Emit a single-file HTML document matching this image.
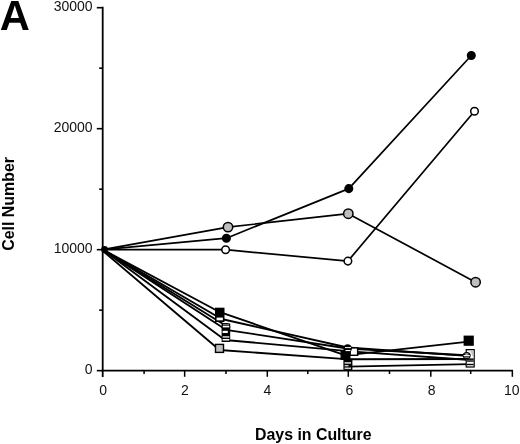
<!DOCTYPE html>
<html><head><meta charset="utf-8"><style>
html,body{margin:0;padding:0;background:#fff;}
svg{display:block;filter:grayscale(1);}
.t{font-family:"Liberation Sans",sans-serif;font-size:14px;fill:#111;}
.b{font-family:"Liberation Sans",sans-serif;font-size:15.9px;font-weight:bold;fill:#000;}
.A{font-family:"Liberation Sans",sans-serif;font-size:43.2px;font-weight:bold;fill:#000;}
</style></head><body>
<svg width="520" height="444" viewBox="0 0 520 444">
<rect width="520" height="444" fill="#fff"/>
<line x1="102.7" y1="6.8" x2="102.7" y2="377" stroke="#000" stroke-width="1.8"/>
<line x1="101.7" y1="370.65" x2="513.0" y2="370.65" stroke="#000" stroke-width="1.6"/>
<line x1="96.8" y1="370.65" x2="102.7" y2="370.65" stroke="#000" stroke-width="1.6"/>
<line x1="96.8" y1="249.67" x2="102.7" y2="249.67" stroke="#000" stroke-width="1.6"/>
<line x1="96.8" y1="128.68" x2="102.7" y2="128.68" stroke="#000" stroke-width="1.6"/>
<line x1="96.8" y1="7.70" x2="102.7" y2="7.70" stroke="#000" stroke-width="1.6"/>
<line x1="99.2" y1="310.16" x2="102.7" y2="310.16" stroke="#000" stroke-width="1.6"/>
<line x1="99.2" y1="189.17" x2="102.7" y2="189.17" stroke="#000" stroke-width="1.6"/>
<line x1="99.2" y1="68.19" x2="102.7" y2="68.19" stroke="#000" stroke-width="1.6"/>
<line x1="184.65" y1="370.65" x2="184.65" y2="376.8" stroke="#000" stroke-width="1.5"/>
<line x1="267.30" y1="370.65" x2="267.30" y2="376.8" stroke="#000" stroke-width="1.5"/>
<line x1="348.30" y1="370.65" x2="348.30" y2="376.8" stroke="#000" stroke-width="1.5"/>
<line x1="430.80" y1="370.65" x2="430.80" y2="376.8" stroke="#000" stroke-width="1.5"/>
<line x1="512.35" y1="370.65" x2="512.35" y2="376.8" stroke="#000" stroke-width="1.5"/>
<line x1="144.10" y1="370.65" x2="144.10" y2="374" stroke="#000" stroke-width="1.5"/>
<line x1="226.00" y1="370.65" x2="226.00" y2="374" stroke="#000" stroke-width="1.5"/>
<line x1="307.80" y1="370.65" x2="307.80" y2="374" stroke="#000" stroke-width="1.5"/>
<line x1="389.50" y1="370.65" x2="389.50" y2="374" stroke="#000" stroke-width="1.5"/>
<line x1="470.70" y1="370.65" x2="470.70" y2="374" stroke="#000" stroke-width="1.5"/>
<text x="92.6" y="374.25" text-anchor="end" class="t">0</text>
<text x="92.6" y="253.27" text-anchor="end" class="t">10000</text>
<text x="92.6" y="132.28" text-anchor="end" class="t">20000</text>
<text x="92.6" y="11.30" text-anchor="end" class="t">30000</text>
<text x="103.20" y="395" text-anchor="middle" class="t">0</text>
<text x="184.95" y="395" text-anchor="middle" class="t">2</text>
<text x="267.30" y="395" text-anchor="middle" class="t">4</text>
<text x="349.50" y="395" text-anchor="middle" class="t">6</text>
<text x="431.55" y="395" text-anchor="middle" class="t">8</text>
<text x="511.85" y="395" text-anchor="middle" class="t">10</text>
<polyline points="102.70,249.60 220.00,312.20 345.50,355.40 468.70,341.60" fill="none" stroke="#000" stroke-width="1.85" stroke-linejoin="round"/>
<polyline points="102.70,249.60 221.50,319.00 347.60,347.50 466.40,355.80" fill="none" stroke="#000" stroke-width="1.85" stroke-linejoin="round"/>
<polyline points="102.70,249.60 225.50,325.50" fill="none" stroke="#000" stroke-width="1.85" stroke-linejoin="round"/>
<polyline points="102.70,249.60 226.00,329.80 347.60,348.50 470.20,355.50" fill="none" stroke="#000" stroke-width="1.85" stroke-linejoin="round"/>
<polyline points="102.70,249.60 225.00,340.00 353.90,351.60 470.20,360.00" fill="none" stroke="#000" stroke-width="1.85" stroke-linejoin="round"/>
<polyline points="102.70,250.80 219.50,350.00 346.00,359.20 470.20,359.00" fill="none" stroke="#000" stroke-width="1.85" stroke-linejoin="round"/>
<polyline points="347.50,366.60 470.20,364.20" fill="none" stroke="#000" stroke-width="1.85" stroke-linejoin="round"/>
<polyline points="102.70,249.60 226.40,238.20 348.80,188.60 471.30,55.50" fill="none" stroke="#000" stroke-width="1.7" stroke-linejoin="round"/>
<polyline points="102.70,249.60 225.60,249.70 347.90,261.10 474.50,111.30" fill="none" stroke="#000" stroke-width="1.7" stroke-linejoin="round"/>
<polyline points="102.70,249.60 228.00,227.10 348.30,213.70 475.60,282.20" fill="none" stroke="#000" stroke-width="1.7" stroke-linejoin="round"/>
<circle cx="104.5" cy="249.4" r="3.4" fill="#000"/>
<rect x="215.0" y="307.7" width="9.50" height="14.30" fill="#000"/>
<rect x="216.6" y="317.6" width="6.30" height="2.70" fill="#fff"/>
<rect x="221.6" y="323.4" width="8.60" height="18.60" fill="#000"/>
<ellipse cx="226.0" cy="327.0" rx="4.3" ry="3.9" fill="#000"/>
<rect x="222.8" y="325.9" width="6.40" height="1.50" fill="#fff"/>
<rect x="223.0" y="324.3" width="6.00" height="1.10" fill="#999"/>
<rect x="222.6" y="330.8" width="5.20" height="2.20" fill="#fff"/>
<rect x="222.6" y="336.3" width="6.70" height="1.30" fill="#fff"/>
<rect x="222.6" y="339.0" width="6.70" height="1.50" fill="#fff"/>
<rect x="215.50" y="344.40" width="8.0" height="8.0" fill="#bebebe" stroke="#000" stroke-width="1.4"/>
<rect x="343.4" y="359.8" width="9.00" height="10.10" fill="#000"/>
<rect x="344.6" y="362.3" width="6.40" height="1.30" fill="#fff"/>
<rect x="344.6" y="365.2" width="3.90" height="1.10" fill="#fff"/>
<rect x="344.6" y="367.6" width="6.40" height="1.20" fill="#fff"/>
<rect x="341.20" y="350.70" width="8.6" height="8.6" fill="#000" stroke="#000" stroke-width="1.4"/>
<rect x="350.20" y="347.90" width="7.4" height="7.4" fill="#fff" stroke="#000" stroke-width="1.4"/>
<circle cx="347.6" cy="348.6" r="4.3" fill="#000"/>
<rect x="345.0" y="347.1" width="6.00" height="1.00" fill="#fff"/>
<rect x="345.5" y="350.0" width="5.00" height="1.10" fill="#fff"/>
<rect x="465.6" y="349.0" width="9.20" height="18.60" fill="#000"/>
<rect x="466.8" y="350.3" width="6.80" height="16.10" fill="#fff"/>
<polygon points="470.0,350.6 473.5,350.6 473.5,358.2" fill="#c2c2c2"/>
<rect x="466.8" y="360.3" width="6.80" height="1.40" fill="#000"/>
<rect x="466.8" y="363.8" width="6.80" height="1.40" fill="#000"/>
<rect x="466.8" y="358.4" width="6.80" height="1.50" fill="#000"/>
<ellipse cx="466.7" cy="355.6" rx="4.0" ry="3.7" fill="#000"/>
<ellipse cx="466.7" cy="353.9" rx="2.2" ry="1.0" fill="#9a9a9a"/>
<rect x="463.6" y="355.0" width="6.20" height="1.30" fill="#fff"/>
<rect x="464.4" y="357.0" width="4.60" height="0.90" fill="#8a8a8a"/>
<rect x="464.30" y="336.30" width="8.8" height="8.8" fill="#000" stroke="#000" stroke-width="1.4"/>
<circle cx="226.40" cy="238.20" r="3.8" fill="#000" stroke="#000" stroke-width="1.5"/>
<circle cx="225.60" cy="249.70" r="3.8" fill="#fff" stroke="#000" stroke-width="1.5"/>
<circle cx="228.00" cy="227.10" r="4.7" fill="#bebebe" stroke="#000" stroke-width="1.5"/>
<circle cx="348.80" cy="188.60" r="3.8" fill="#000" stroke="#000" stroke-width="1.5"/>
<circle cx="347.90" cy="261.10" r="3.8" fill="#fff" stroke="#000" stroke-width="1.5"/>
<circle cx="348.30" cy="213.70" r="4.7" fill="#bebebe" stroke="#000" stroke-width="1.5"/>
<circle cx="471.30" cy="55.50" r="3.8" fill="#000" stroke="#000" stroke-width="1.5"/>
<circle cx="474.50" cy="111.30" r="3.8" fill="#fff" stroke="#000" stroke-width="1.5"/>
<circle cx="475.60" cy="282.20" r="4.7" fill="#bebebe" stroke="#000" stroke-width="1.5"/>
<text x="0" y="0" class="b" transform="translate(14.2,250.7) rotate(-90)">Cell Number</text>
<text x="255" y="440.4" class="b">Days in Culture</text>
<text x="0" y="0" class="A" transform="translate(-0.2,29.9) scale(0.965,1)">A</text>
</svg>
</body></html>
